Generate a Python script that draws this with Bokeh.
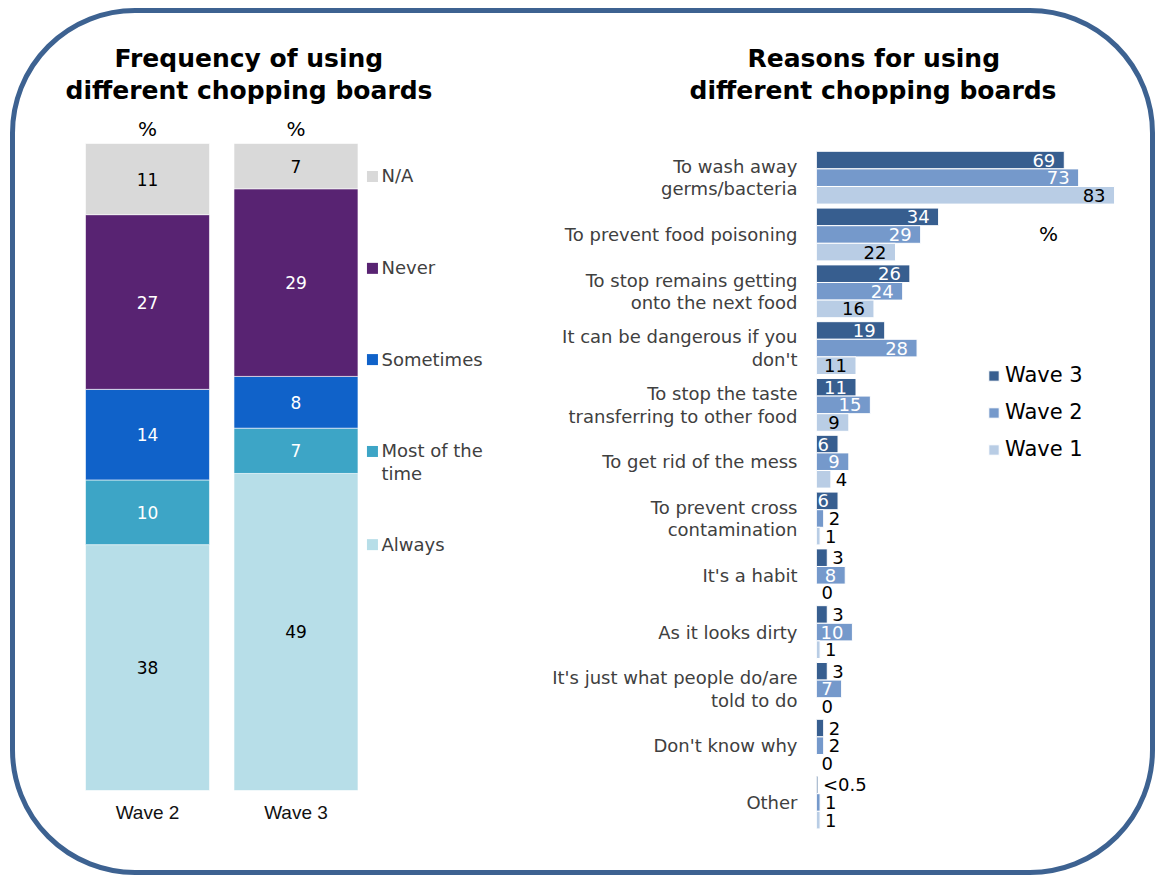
import numpy as np
from bokeh.plotting import figure
from bokeh.models import (ColumnDataSource, Range1d, FixedTicker, Title,
                          Legend, LegendItem, InlineStyleSheet)
from bokeh.transform import dodge
from bokeh.layouts import row
from bokeh.core.properties import value
from bokeh.embed import file_html
from bokeh.resources import INLINE

FONT = value("DejaVu Sans")

# ---------------- data: frequency of using different boards ----------------
waves_left = ["Wave 2", "Wave 3"]
freq_cats = ["Always", "Most of the time", "Sometimes", "Never", "N/A"]
always = [38, 49]
most_of_time = [10, 7]
sometimes = [14, 8]
never = [27, 29]
na = [11, 7]
freq_colors = ["#B7DEE8", "#3DA5C6", "#1062C9", "#582372", "#D9D9D9"]
freq_label_colors = ["#000000", "#FFFFFF", "#FFFFFF", "#FFFFFF", "#000000"]

# ---------------- data: reasons ----------------
reasons = [
    "To wash away\ngerms/bacteria",
    "To prevent food poisoning",
    "To stop remains getting\nonto the next food",
    "It can be dangerous if you\ndon't",
    "To stop the taste\ntransferring to other food",
    "To get rid of the mess",
    "To prevent cross\ncontamination",
    "It's a habit",
    "As it looks dirty",
    "It's just what people do/are\ntold to do",
    "Don't know why",
    "Other",
]
wave3 = [69, 34, 26, 19, 11, 6, 6, 3, 3, 3, 2, 0.4]
wave2 = [73, 29, 24, 28, 15, 9, 2, 8, 10, 7, 2, 1]
wave1 = [83, 22, 16, 11, 9, 4, 1, 0, 1, 0, 0, 1]
wave_names = ["Wave 3", "Wave 2", "Wave 1"]
wave_colors = ["#375E8F", "#7599CB", "#B9CDE5"]

TOP, BOTTOM = 105, 45


def add_title(p, lines, offsets):
    # added from the frame outward: last line first
    for txt, off in list(zip(lines, offsets))[::-1]:
        p.add_layout(Title(text=txt, align="left", offset=off, standoff=1,
                           text_font="DejaVu Sans", text_font_style="bold",
                           text_font_size="25px", text_color="#000000"), "above")


# ======================= LEFT CHART =======================
xpos = [0, 1]
left = figure(width=520, height=875, x_range=Range1d(-0.505, 2.512), y_range=Range1d(-6.18, 105.87),
              output_backend="svg", toolbar_location=None, y_axis_location=None,
              min_border_left=72, min_border_right=0, min_border_top=TOP, min_border_bottom=BOTTOM)
left.outline_line_color = None
left.grid.visible = False
left.title = None

src_l = ColumnDataSource(dict(x=xpos, **{c: v for c, v in zip(freq_cats, [always, most_of_time, sometimes, never, na])}))
left.vbar_stack(freq_cats, x="x", width=0.835, fill_color=freq_colors, line_color="white",
                line_width=0.6, source=src_l)

vals = np.array([always, most_of_time, sometimes, never, na], dtype=float)
tops = vals.cumsum(axis=0)
mids = tops - vals / 2
lx, ly, lt, lc = [], [], [], []
for i in range(len(freq_cats)):
    for j in range(len(xpos)):
        lx.append(xpos[j]); ly.append(mids[i, j]); lt.append(str(int(vals[i, j]))); lc.append(freq_label_colors[i])
left.text(x="x", y="y", text="t", text_color="c", source=ColumnDataSource(dict(x=lx, y=ly, t=lt, c=lc)),
          text_align="center", text_baseline="middle", text_font=FONT, text_font_size="17px")

left.text(x=xpos, y=list(tops[-1]), text=["%", "%"], text_align="center", text_baseline="bottom",
          y_offset=-2, text_font=FONT, text_font_size="20px", text_color="#000000")

left.xaxis.ticker = FixedTicker(ticks=xpos)
left.xaxis.major_label_overrides = {xpos[i]: waves_left[i] for i in range(2)}
left.xaxis.axis_line_color = None
left.xaxis.major_tick_line_color = None
left.xaxis.minor_tick_line_color = None
left.xaxis.major_tick_out = 0
left.xaxis.major_label_standoff = -29
left.xaxis.major_label_text_font = "Liberation Sans"
left.xaxis.major_label_text_font_size = "19px"
left.xaxis.major_label_text_color = "#111111"

# legend (top to bottom: N/A ... Always)
leg_y = [94.9, 80.7, 66.6, 52.4, 38.0]
leg_labels = ["N/A", "Never", "Sometimes", "Most of the\ntime", "Always"]
leg_cols = freq_colors[::-1]
left.scatter(x=[1.515] * 5, y=leg_y, marker="square", size=11, fill_color=leg_cols, line_color=None)
left.text(x=[1.576] * 5, y=leg_y, text=leg_labels, text_align="left", text_baseline="top", y_offset=-11,
          text_font=FONT, text_font_size="18px", text_color="#404040", text_line_height=1.06)

add_title(left, ["Frequency of using", "different chopping boards"], [42, -7])

# ======================= RIGHT CHART =======================
ypos = list(range(len(reasons) - 1, -1, -1))
right = figure(width=635, height=875, y_range=Range1d(-0.493, 12.271), x_range=Range1d(0, 94.4),
               output_backend="svg", toolbar_location=None, x_axis_location=None,
               min_border_left=296, min_border_right=0, min_border_top=TOP, min_border_bottom=BOTTOM)
right.outline_line_color = None
right.grid.visible = False

src_r = ColumnDataSource(dict(y=ypos, w3=wave3, w2=wave2, w1=wave1))
bh = 0.31
offsets = [bh, 0.0, -bh]
series = [wave3, wave2, wave1]
fields = ["w3", "w2", "w1"]
inside_min = [5, 5, 9]
inside_col = ["#FFFFFF", "#FFFFFF", "#000000"]
renderers = []
for k in range(3):
    r = right.hbar(y=dodge("y", offsets[k]), left=0, right=fields[k],
                   height=bh, fill_color=wave_colors[k], line_color="white", line_width=1, source=src_r)
    renderers.append(r)
    xs, ts, al, xo, cs = [], [], [], [], []
    for v in series[k]:
        inside = v >= inside_min[k]
        xs.append(v)
        ts.append("<0.5" if 0 < v < 0.5 else str(int(v)))
        al.append("right" if inside else "left")
        xo.append(-9 if inside else 5)
        cs.append(inside_col[k] if inside else "#000000")
    right.text(x="x", y=dodge("y", offsets[k]), text="t",
               text_align="a", x_offset="o", text_color="c", text_baseline="middle",
               text_font=FONT, text_font_size="18px",
               source=ColumnDataSource(dict(x=xs, y=ypos, t=ts, a=al, o=xo, c=cs)))

right.text(x=[64.6], y=[ypos[1]], text=["%"], text_align="center", text_baseline="middle",
           text_font=FONT, text_font_size="20px", text_color="#000000")

right.yaxis.ticker = FixedTicker(ticks=ypos)
right.yaxis.major_label_overrides = {ypos[i]: reasons[i] for i in range(len(reasons))}
right.yaxis.axis_line_color = None
right.yaxis.major_tick_line_color = None
right.yaxis.minor_tick_line_color = None
right.yaxis.major_tick_out = 0
right.yaxis.major_label_standoff = 19
right.yaxis.major_label_text_font = "DejaVu Sans"
right.yaxis.major_label_text_font_size = "18px"
right.yaxis.major_label_text_color = "#404040"
right.yaxis.major_label_text_line_height = 1.06

legend = Legend(items=[LegendItem(label=wave_names[k], renderers=[renderers[k]]) for k in range(3)],
                location=(171, 369), orientation="vertical", glyph_height=13, glyph_width=13,
                label_height=22, spacing=13, padding=0, margin=0, label_standoff=5,
                border_line_color=None, background_fill_alpha=0,
                label_text_font="DejaVu Sans", label_text_font_size="21px", label_text_color="#000000")
right.add_layout(legend)

add_title(right, ["Reasons for using", "different chopping boards"], [-69, -127])

border_css = InlineStyleSheet(css="""
:host::after {
  content: '';
  position: absolute;
  left: 10px; top: 8px; width: 1145px; height: 867px;
  box-sizing: border-box;
  border: 5px solid #3D6291;
  border-radius: 125px;
  pointer-events: none;
}
""")
p = row(left, right, stylesheets=[border_css])

open("out.html", "w").write(file_html(p, INLINE))
